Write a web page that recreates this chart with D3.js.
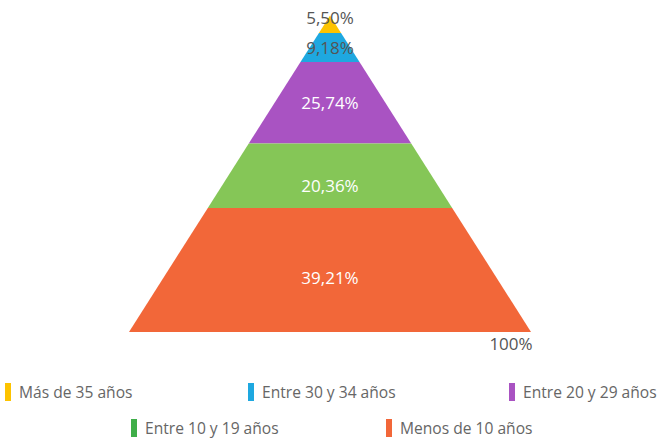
<!DOCTYPE html>
<html>
<head>
<meta charset="utf-8">
<script src="https://cdn.jsdelivr.net/npm/d3@7"></script>
<style>
  html, body { margin: 0; padding: 0; background: #fff; }
  svg { display: block; font-family: "Open Sans", sans-serif; }
</style>
</head>
<body>
<svg id="chart" width="659" height="441"></svg>
<script>
const categories = ["Más de 35 años", "Entre 30 y 34 años", "Entre 20 y 29 años", "Entre 10 y 19 años", "Menos de 10 años"];
const values = [5.50, 9.18, 25.74, 20.36, 39.21];
const valueLabels = ["5,50%", "9,18%", "25,74%", "20,36%", "39,21%"];
const totalLabel = "100%";
const colors = ["#fdc300", "#1ea8e0", "#a953c2", "#85c657", "#f26739"];
const legendColors = ["#fdc300", "#1ea8e0", "#a953c2", "#3fae49", "#f26739"];

const svg = d3.select("#chart");
const cx = 330, apexY = 15.5, baseY = 332, baseHalf = 201;

const total = d3.sum(values);
let acc = 0;
const segs = values.map((v, i) => {
  const s = { i, v, f0: acc / total };
  acc += v;
  s.f1 = acc / total;
  return s;
});

const y = d3.scaleLinear().domain([0, 1]).range([apexY, baseY]);
const hw = d3.scaleLinear().domain([0, 1]).range([0, baseHalf]);

svg.append("g").selectAll("path").data(segs).join("path")
  .attr("d", d => {
    const y0 = y(d.f0), y1 = y(d.f1), w0 = hw(d.f0), w1 = hw(d.f1);
    return `M${cx - w0},${y0}L${cx + w0},${y0}L${cx + w1},${y1}L${cx - w1},${y1}Z`;
  })
  .attr("fill", d => colors[d.i]);

const labelDy = [-7, 0, 0, 10, 8];
svg.append("g").selectAll("text").data(segs).join("text")
  .attr("x", cx)
  .attr("y", d => (y(d.f0) + y(d.f1)) / 2 + labelDy[d.i])
  .attr("text-anchor", "middle")
  .attr("dominant-baseline", "central")
  .attr("font-size", 17)
  .attr("fill", d => d.i < 2 ? "#555" : "#fff")
  .text(d => valueLabels[d.i]);

svg.append("text")
  .attr("x", 511).attr("y", 343)
  .attr("text-anchor", "middle")
  .attr("dominant-baseline", "central")
  .attr("font-size", 17)
  .attr("fill", "#555")
  .text(totalLabel);

// legend
const legendPos = [[5, 392], [248, 392], [509, 392], [131, 428], [386, 428]];
const lg = svg.append("g").selectAll("g").data(categories).join("g")
  .attr("transform", (d, i) => `translate(${legendPos[i][0]},${legendPos[i][1]})`);
lg.append("rect").attr("x", 0).attr("y", -9).attr("width", 6).attr("height", 18)
  .attr("fill", (d, i) => legendColors[i]);
lg.append("text").attr("x", 14).attr("y", 0)
  .attr("dominant-baseline", "central")
  .attr("font-size", 15.6)
  .attr("fill", "#666")
  .text(d => d);
</script>
</body>
</html>
